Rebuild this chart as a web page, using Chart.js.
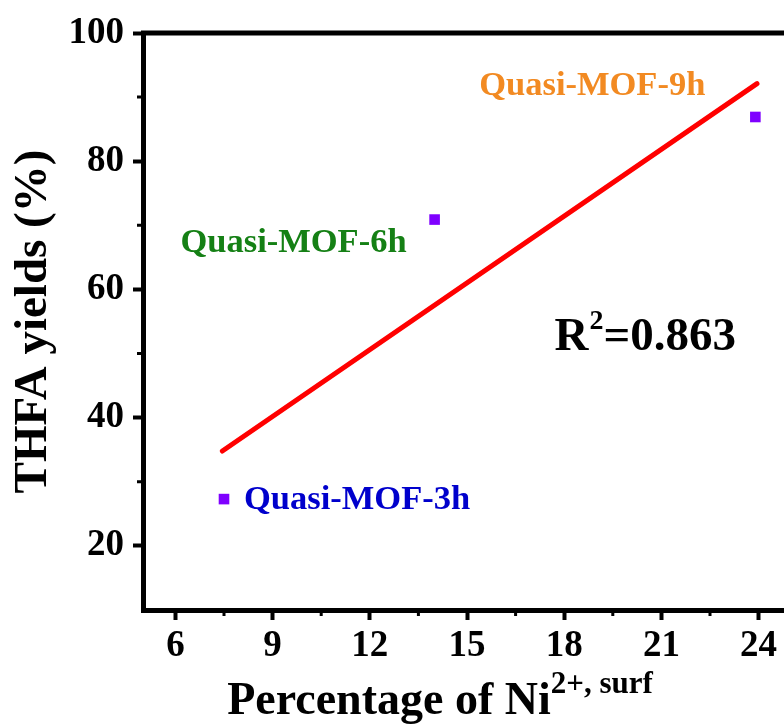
<!DOCTYPE html>
<html>
<head>
<meta charset="utf-8">
<script src="https://cdn.jsdelivr.net/npm/chart.js@4.4.1/dist/chart.umd.min.js"></script>
<style>
  html, body { margin: 0; padding: 0; background: #fff; overflow: hidden; }
  #wrap { width: 784px; height: 727px; overflow: hidden; }
</style>
</head>
<body>
<div id="wrap"><canvas id="chart" width="800" height="727"></canvas></div>
<script>
// samples
const sampleNames = ["Quasi-MOF-3h", "Quasi-MOF-6h", "Quasi-MOF-9h"];
const sampleColors = ["#0000cc", "#158015", "#f28a22"];
const niSurf = [7.5, 14.0, 23.9];
const thfaYield = [27.3, 70.9, 86.9];

// linear fit endpoints (as drawn)
const fitX = [7.45, 23.95];
const fitY = [34.8, 92.1];

const xTicks = [6, 9, 12, 15, 18, 21, 24];
const yTicks = [20, 40, 60, 80, 100];

const serif = "'Liberation Serif', 'Times New Roman', serif";

// label offsets from each point, in px
const labelOffsets = [
  { dx: 20, dy: 1, align: "left" },
  { dx: -28, dy: 24, align: "right" },
  { dx: -50, dy: -31, align: "right" },
];

const extras = {
  id: "extras",
  afterDraw(chart) {
    const ctx = chart.ctx;
    const a = chart.chartArea;
    const xs = chart.scales.x, ys = chart.scales.y;
    ctx.save();
    // top + right frame
    ctx.strokeStyle = "#000";
    ctx.lineWidth = 5;
    ctx.beginPath();
    ctx.moveTo(a.left - 2, a.top);
    ctx.lineTo(a.right, a.top);
    ctx.lineTo(a.right, a.bottom + 2);
    ctx.stroke();
    // minor ticks
    ctx.lineWidth = 3;
    ctx.beginPath();
    for (let i = 0; i < xTicks.length - 1; i++) {
      const px = xs.getPixelForValue((xTicks[i] + xTicks[i + 1]) / 2);
      ctx.moveTo(px, a.bottom);
      ctx.lineTo(px, a.bottom + 6);
    }
    for (let i = 0; i < yTicks.length - 1; i++) {
      const py = ys.getPixelForValue((yTicks[i] + yTicks[i + 1]) / 2);
      ctx.moveTo(a.left, py);
      ctx.lineTo(a.left - 6, py);
    }
    ctx.stroke();

    // point labels
    ctx.font = "bold 34.5px " + serif;
    ctx.textBaseline = "middle";
    sampleNames.forEach((name, i) => {
      const o = labelOffsets[i];
      ctx.fillStyle = sampleColors[i];
      ctx.textAlign = o.align;
      ctx.fillText(name, xs.getPixelForValue(niSurf[i]) + o.dx, ys.getPixelForValue(thfaYield[i]) + o.dy);
    });

    // R^2 note
    ctx.fillStyle = "#000";
    ctx.textAlign = "left";
    ctx.textBaseline = "alphabetic";
    let x = xs.getPixelForValue(17.7);
    const yb = ys.getPixelForValue(50.6);
    ctx.font = "bold 47px " + serif;
    ctx.fillText("R", x, yb);
    x += ctx.measureText("R").width;
    ctx.font = "bold 28px " + serif;
    ctx.fillText("2", x + 1, yb - 21);
    x += ctx.measureText("2").width + 1;
    ctx.font = "bold 47px " + serif;
    ctx.fillText("=0.863", x, yb);

    // x axis title with superscript
    const main = "Percentage of Ni", sup = "2+, surf";
    ctx.font = "bold 46px " + serif;
    const w1 = ctx.measureText(main).width;
    ctx.font = "bold 31px " + serif;
    const w2 = ctx.measureText(sup).width;
    let tx = (a.left + a.right) / 2 - (w1 + w2) / 2 - 27;
    const tb = 714;
    ctx.font = "bold 46px " + serif;
    ctx.fillText(main, tx, tb);
    ctx.font = "bold 31px " + serif;
    ctx.fillText(sup, tx + w1, tb - 21);
    ctx.restore();
  }
};

new Chart(document.getElementById("chart"), {
  type: "scatter",
  data: {
    datasets: [
      {
        label: "fit",
        data: fitX.map((v, i) => ({ x: v, y: fitY[i] })),
        showLine: true,
        borderColor: "#ff0000",
        borderWidth: 5,
        pointRadius: 0,
        borderCapStyle: "round",
      },
      {
        label: "samples",
        data: niSurf.map((v, i) => ({ x: v, y: thfaYield[i] })),
        pointStyle: "rect",
        pointRadius: 7.5,
        pointBorderWidth: 0,
        backgroundColor: "#7f00ff",
        borderColor: "#7f00ff",
      },
    ],
  },
  options: {
    responsive: false,
    devicePixelRatio: 1,
    animation: false,
    layout: { padding: { top: 33, right: 9, left: 0, bottom: 0 } },
    plugins: { legend: { display: false }, tooltip: { enabled: false } },
    scales: {
      x: {
        type: "linear",
        min: 5,
        max: 25,
        afterBuildTicks: (s) => { s.ticks = xTicks.map((v) => ({ value: v })); },
        afterFit: (s) => { s.height = 117; },
        grid: { drawOnChartArea: false, tickLength: 10, tickWidth: 4, tickColor: "#000" },
        border: { display: true, width: 5, color: "#000" },
        ticks: { color: "#000", font: { family: serif, size: 37, weight: "bold" }, padding: 4, maxRotation: 0 },
      },
      y: {
        min: 10,
        max: 100,
        afterBuildTicks: (s) => { s.ticks = yTicks.map((v) => ({ value: v })); },
        afterFit: (s) => { s.width = 143; },
        grid: { drawOnChartArea: false, tickLength: 10, tickWidth: 4, tickColor: "#000" },
        border: { display: true, width: 5, color: "#000" },
        ticks: { color: "#000", font: { family: serif, size: 37, weight: "bold" }, padding: 9 },
        title: {
          display: true,
          text: "THFA yields (%)",
          color: "#000",
          font: { family: serif, size: 47, weight: "bold" },
          padding: { top: 6, bottom: 0 },
        },
      },
    },
  },
  plugins: [extras],
});
</script>
</body>
</html>
